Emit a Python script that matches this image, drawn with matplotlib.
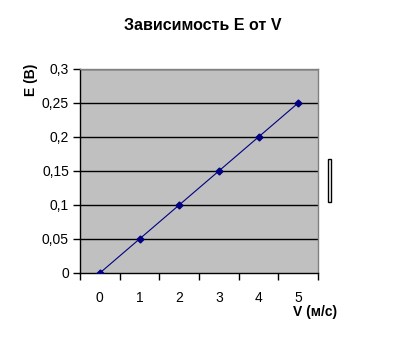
import matplotlib
matplotlib.use("Agg")
import matplotlib.pyplot as plt
from matplotlib.patches import Rectangle

categories = ["0", "1", "2", "3", "4", "5"]
values = [0, 0.05, 0.1, 0.15, 0.2, 0.25]
yticks = [0, 0.05, 0.1, 0.15, 0.2, 0.25, 0.3]
ytick_labels = ["0", "0,05", "0,1", "0,15", "0,2", "0,25", "0,3"]

plt.rcParams['font.family'] = ['Liberation Sans', 'DejaVu Sans']

W, H = 409, 346
fig = plt.figure(figsize=(W/100, H/100), dpi=100)
ax = fig.add_axes([80/W, 1-273/H, (318-80)/W, (273-69)/H])
ax.set_facecolor('#C0C0C0')

x = list(range(len(categories)))
ax.plot(x, values, color='#000080', lw=0.8, marker='D', ms=3.5,
        mfc='#000080', mec='#000080', zorder=3)

ax.set_xlim(-0.5, len(categories) - 0.5)
ax.set_ylim(0, 0.3)
ax.set_yticks(yticks)
ax.set_yticklabels(ytick_labels, fontsize=10)
for yv in yticks[1:]:
    ax.axhline(yv, color='black', lw=1, zorder=1)

ax.set_xticks([i - 0.5 for i in range(len(categories) + 1)])
ax.set_xticklabels([])
ax.set_xticks(x, minor=True)
ax.set_xticklabels(categories, minor=True, fontsize=10)
ax.tick_params(axis='x', which='minor', length=0, pad=13)
ax.tick_params(axis='x', which='major', length=5, width=1, direction='out', color='black')
ax.tick_params(axis='y', length=5, width=1, direction='out', color='black', pad=3)

ax.spines['left'].set_color('black')
ax.spines['bottom'].set_color('black')
ax.spines['right'].set_color('#808080')
ax.spines['top'].set_color('#808080')
for s in ax.spines.values():
    s.set_linewidth(1)

fig.text(203/W, 1-26/H, "Зависимость E от V", ha='center', va='center',
         fontsize=11.5, fontweight='bold')
fig.text(31/W, 1-80/H, "E (В)", ha='center', va='center', rotation=90,
         fontsize=10, fontweight='bold')
fig.text(315/W, 1-312/H, "V (м/с)", ha='center', va='center',
         fontsize=10, fontweight='bold')

fig.patches.append(Rectangle((328/W, 1-202/H), 3/W, 43/H, transform=fig.transFigure,
                             facecolor='white', edgecolor='black', lw=1))

fig.savefig("out.png", dpi=100)
